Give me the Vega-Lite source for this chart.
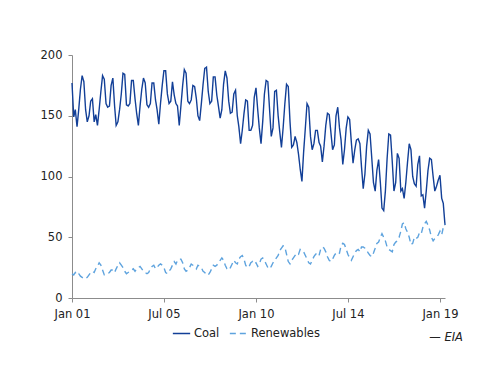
{
  "$schema": "https://vega.github.io/schema/vega-lite/v6.json",
  "autosize": {"type": "none"},
  "width": 373,
  "height": 243,
  "padding": {"left": 72, "top": 55, "right": 55, "bottom": 88},
  "background": "white",
  "title": {"text": "— EIA", "orient": "bottom", "anchor": "end", "fontStyle": "italic", "fontWeight": "normal", "font": "DejaVu Sans", "fontSize": 11.5, "color": "#222222", "dx": 5, "dy": -37, "offset": 30},
  "config": {
    "view": {"stroke": null},
    "font": "DejaVu Sans",
    "axis": {"grid": false, "domainColor": "#8c8c8c", "tickColor": "#8c8c8c", "tickSize": 4, "labelFont": "DejaVu Sans", "labelFontSize": 11.5, "labelColor": "#222222", "title": null}
  },
  "data": {"values": [
{"d":"2001-01","Coal":177,"Renewables":20},{"d":"2001-02","Coal":149,"Renewables":19},{"d":"2001-03","Coal":155,"Renewables":21},{"d":"2001-04","Coal":141,"Renewables":19},{"d":"2001-05","Coal":155,"Renewables":20},{"d":"2001-06","Coal":172,"Renewables":18},{"d":"2001-07","Coal":183,"Renewables":17},{"d":"2001-08","Coal":178,"Renewables":16},{"d":"2001-09","Coal":155,"Renewables":16},{"d":"2001-10","Coal":145,"Renewables":17},{"d":"2001-11","Coal":150,"Renewables":19},{"d":"2001-12","Coal":162,"Renewables":21},
{"d":"2002-01","Coal":164,"Renewables":22},{"d":"2002-02","Coal":145,"Renewables":21},{"d":"2002-03","Coal":151,"Renewables":24},{"d":"2002-04","Coal":142,"Renewables":26},{"d":"2002-05","Coal":155,"Renewables":29},{"d":"2002-06","Coal":170,"Renewables":27},{"d":"2002-07","Coal":183,"Renewables":23},{"d":"2002-08","Coal":180,"Renewables":19},{"d":"2002-09","Coal":160,"Renewables":19},{"d":"2002-10","Coal":157,"Renewables":20},{"d":"2002-11","Coal":158,"Renewables":21},{"d":"2002-12","Coal":175,"Renewables":23},
{"d":"2003-01","Coal":181,"Renewables":23},{"d":"2003-02","Coal":158,"Renewables":21},{"d":"2003-03","Coal":142,"Renewables":24},{"d":"2003-04","Coal":145,"Renewables":27},{"d":"2003-05","Coal":155,"Renewables":29},{"d":"2003-06","Coal":168,"Renewables":27},{"d":"2003-07","Coal":185,"Renewables":25},{"d":"2003-08","Coal":184,"Renewables":22},{"d":"2003-09","Coal":159,"Renewables":20},{"d":"2003-10","Coal":158,"Renewables":21},{"d":"2003-11","Coal":160,"Renewables":22},{"d":"2003-12","Coal":179,"Renewables":23},
{"d":"2004-01","Coal":179,"Renewables":24},{"d":"2004-02","Coal":164,"Renewables":22},{"d":"2004-03","Coal":152,"Renewables":24},{"d":"2004-04","Coal":142,"Renewables":25},{"d":"2004-05","Coal":158,"Renewables":26},{"d":"2004-06","Coal":172,"Renewables":24},{"d":"2004-07","Coal":181,"Renewables":22},{"d":"2004-08","Coal":177,"Renewables":21},{"d":"2004-09","Coal":159,"Renewables":20},{"d":"2004-10","Coal":157,"Renewables":21},{"d":"2004-11","Coal":160,"Renewables":24},{"d":"2004-12","Coal":177,"Renewables":26},
{"d":"2005-01","Coal":177,"Renewables":27},{"d":"2005-02","Coal":163,"Renewables":24},{"d":"2005-03","Coal":155,"Renewables":25},{"d":"2005-04","Coal":143,"Renewables":27},{"d":"2005-05","Coal":160,"Renewables":28},{"d":"2005-06","Coal":175,"Renewables":27},{"d":"2005-07","Coal":187,"Renewables":25},{"d":"2005-08","Coal":187,"Renewables":21},{"d":"2005-09","Coal":168,"Renewables":20},{"d":"2005-10","Coal":160,"Renewables":22},{"d":"2005-11","Coal":162,"Renewables":24},{"d":"2005-12","Coal":178,"Renewables":27},
{"d":"2006-01","Coal":167,"Renewables":30},{"d":"2006-02","Coal":160,"Renewables":28},{"d":"2006-03","Coal":158,"Renewables":31},{"d":"2006-04","Coal":142,"Renewables":32},{"d":"2006-05","Coal":158,"Renewables":32},{"d":"2006-06","Coal":175,"Renewables":29},{"d":"2006-07","Coal":188,"Renewables":24},{"d":"2006-08","Coal":185,"Renewables":22},{"d":"2006-09","Coal":162,"Renewables":23},{"d":"2006-10","Coal":160,"Renewables":25},{"d":"2006-11","Coal":163,"Renewables":28},{"d":"2006-12","Coal":175,"Renewables":27},
{"d":"2007-01","Coal":174,"Renewables":26},{"d":"2007-02","Coal":164,"Renewables":24},{"d":"2007-03","Coal":150,"Renewables":27},{"d":"2007-04","Coal":146,"Renewables":26},{"d":"2007-05","Coal":160,"Renewables":25},{"d":"2007-06","Coal":176,"Renewables":22},{"d":"2007-07","Coal":189,"Renewables":21},{"d":"2007-08","Coal":190,"Renewables":19},{"d":"2007-09","Coal":170,"Renewables":19},{"d":"2007-10","Coal":160,"Renewables":21},{"d":"2007-11","Coal":162,"Renewables":24},{"d":"2007-12","Coal":182,"Renewables":27},
{"d":"2008-01","Coal":182,"Renewables":26},{"d":"2008-02","Coal":167,"Renewables":27},{"d":"2008-03","Coal":158,"Renewables":29},{"d":"2008-04","Coal":148,"Renewables":31},{"d":"2008-05","Coal":155,"Renewables":33},{"d":"2008-06","Coal":176,"Renewables":31},{"d":"2008-07","Coal":187,"Renewables":27},{"d":"2008-08","Coal":181,"Renewables":24},{"d":"2008-09","Coal":162,"Renewables":23},{"d":"2008-10","Coal":152,"Renewables":25},{"d":"2008-11","Coal":153,"Renewables":28},{"d":"2008-12","Coal":168,"Renewables":31},
{"d":"2009-01","Coal":171,"Renewables":29},{"d":"2009-02","Coal":150,"Renewables":28},{"d":"2009-03","Coal":141,"Renewables":32},{"d":"2009-04","Coal":127,"Renewables":34},{"d":"2009-05","Coal":138,"Renewables":35},{"d":"2009-06","Coal":152,"Renewables":32},{"d":"2009-07","Coal":163,"Renewables":27},{"d":"2009-08","Coal":162,"Renewables":25},{"d":"2009-09","Coal":138,"Renewables":26},{"d":"2009-10","Coal":138,"Renewables":29},{"d":"2009-11","Coal":142,"Renewables":30},{"d":"2009-12","Coal":165,"Renewables":28},
{"d":"2010-01","Coal":173,"Renewables":29},{"d":"2010-02","Coal":155,"Renewables":26},{"d":"2010-03","Coal":140,"Renewables":28},{"d":"2010-04","Coal":127,"Renewables":32},{"d":"2010-05","Coal":145,"Renewables":33},{"d":"2010-06","Coal":168,"Renewables":31},{"d":"2010-07","Coal":179,"Renewables":28},{"d":"2010-08","Coal":178,"Renewables":25},{"d":"2010-09","Coal":155,"Renewables":24},{"d":"2010-10","Coal":133,"Renewables":26},{"d":"2010-11","Coal":140,"Renewables":29},{"d":"2010-12","Coal":170,"Renewables":31},
{"d":"2011-01","Coal":171,"Renewables":33},{"d":"2011-02","Coal":150,"Renewables":35},{"d":"2011-03","Coal":137,"Renewables":39},{"d":"2011-04","Coal":124,"Renewables":41},{"d":"2011-05","Coal":140,"Renewables":43},{"d":"2011-06","Coal":160,"Renewables":42},{"d":"2011-07","Coal":176,"Renewables":36},{"d":"2011-08","Coal":174,"Renewables":30},{"d":"2011-09","Coal":145,"Renewables":28},{"d":"2011-10","Coal":124,"Renewables":31},{"d":"2011-11","Coal":126,"Renewables":33},{"d":"2011-12","Coal":133,"Renewables":35},
{"d":"2012-01","Coal":128,"Renewables":37},{"d":"2012-02","Coal":118,"Renewables":36},{"d":"2012-03","Coal":106,"Renewables":40},{"d":"2012-04","Coal":96,"Renewables":39},{"d":"2012-05","Coal":120,"Renewables":38},{"d":"2012-06","Coal":140,"Renewables":35},{"d":"2012-07","Coal":160,"Renewables":32},{"d":"2012-08","Coal":157,"Renewables":29},{"d":"2012-09","Coal":133,"Renewables":28},{"d":"2012-10","Coal":122,"Renewables":31},{"d":"2012-11","Coal":127,"Renewables":34},{"d":"2012-12","Coal":138,"Renewables":36},
{"d":"2013-01","Coal":138,"Renewables":37},{"d":"2013-02","Coal":128,"Renewables":35},{"d":"2013-03","Coal":125,"Renewables":40},{"d":"2013-04","Coal":112,"Renewables":42},{"d":"2013-05","Coal":125,"Renewables":41},{"d":"2013-06","Coal":142,"Renewables":38},{"d":"2013-07","Coal":152,"Renewables":34},{"d":"2013-08","Coal":151,"Renewables":31},{"d":"2013-09","Coal":136,"Renewables":30},{"d":"2013-10","Coal":122,"Renewables":32},{"d":"2013-11","Coal":126,"Renewables":35},{"d":"2013-12","Coal":150,"Renewables":37},
{"d":"2014-01","Coal":157,"Renewables":38},{"d":"2014-02","Coal":140,"Renewables":37},{"d":"2014-03","Coal":130,"Renewables":43},{"d":"2014-04","Coal":110,"Renewables":45},{"d":"2014-05","Coal":122,"Renewables":44},{"d":"2014-06","Coal":140,"Renewables":40},{"d":"2014-07","Coal":149,"Renewables":36},{"d":"2014-08","Coal":147,"Renewables":33},{"d":"2014-09","Coal":128,"Renewables":31},{"d":"2014-10","Coal":111,"Renewables":34},{"d":"2014-11","Coal":122,"Renewables":37},{"d":"2014-12","Coal":130,"Renewables":39},
{"d":"2015-01","Coal":131,"Renewables":40},{"d":"2015-02","Coal":127,"Renewables":38},{"d":"2015-03","Coal":108,"Renewables":42},{"d":"2015-04","Coal":90,"Renewables":42},{"d":"2015-05","Coal":102,"Renewables":41},{"d":"2015-06","Coal":125,"Renewables":39},{"d":"2015-07","Coal":138,"Renewables":37},{"d":"2015-08","Coal":135,"Renewables":35},{"d":"2015-09","Coal":115,"Renewables":34},{"d":"2015-10","Coal":95,"Renewables":37},{"d":"2015-11","Coal":88,"Renewables":41},{"d":"2015-12","Coal":105,"Renewables":45},
{"d":"2016-01","Coal":114,"Renewables":46},{"d":"2016-02","Coal":95,"Renewables":50},{"d":"2016-03","Coal":74,"Renewables":53},{"d":"2016-04","Coal":72,"Renewables":50},{"d":"2016-05","Coal":88,"Renewables":47},{"d":"2016-06","Coal":115,"Renewables":42},{"d":"2016-07","Coal":135,"Renewables":40},{"d":"2016-08","Coal":134,"Renewables":39},{"d":"2016-09","Coal":112,"Renewables":38},{"d":"2016-10","Coal":88,"Renewables":44},{"d":"2016-11","Coal":95,"Renewables":46},{"d":"2016-12","Coal":119,"Renewables":47},
{"d":"2017-01","Coal":115,"Renewables":50},{"d":"2017-02","Coal":88,"Renewables":55},{"d":"2017-03","Coal":90,"Renewables":61},{"d":"2017-04","Coal":82,"Renewables":62},{"d":"2017-05","Coal":95,"Renewables":57},{"d":"2017-06","Coal":112,"Renewables":54},{"d":"2017-07","Coal":127,"Renewables":50},{"d":"2017-08","Coal":122,"Renewables":44},{"d":"2017-09","Coal":100,"Renewables":45},{"d":"2017-10","Coal":94,"Renewables":50},{"d":"2017-11","Coal":92,"Renewables":49},{"d":"2017-12","Coal":110,"Renewables":50},
{"d":"2018-01","Coal":117,"Renewables":54},{"d":"2018-02","Coal":84,"Renewables":53},{"d":"2018-03","Coal":85,"Renewables":58},{"d":"2018-04","Coal":74,"Renewables":61},{"d":"2018-05","Coal":88,"Renewables":63},{"d":"2018-06","Coal":105,"Renewables":60},{"d":"2018-07","Coal":115,"Renewables":56},{"d":"2018-08","Coal":114,"Renewables":50},{"d":"2018-09","Coal":100,"Renewables":47},{"d":"2018-10","Coal":88,"Renewables":49},{"d":"2018-11","Coal":92,"Renewables":50},{"d":"2018-12","Coal":97,"Renewables":52},
{"d":"2019-01","Coal":101,"Renewables":55},{"d":"2019-02","Coal":82,"Renewables":52},{"d":"2019-03","Coal":78,"Renewables":58},{"d":"2019-04","Coal":60,"Renewables":61}
  ]},
  "transform": [{"fold": ["Coal", "Renewables"], "as": ["series", "value"]}],
  "mark": {"type": "line", "strokeWidth": 1.4},
  "encoding": {
    "x": {
      "field": "d", "type": "temporal",
      "scale": {"type": "utc", "domain": [{"year": 2001, "month": 1, "date": 1, "utc": true}, {"year": 2019, "month": 4, "date": 1, "utc": true}], "nice": false},
      "axis": {"format": "%b %y", "labelPadding": 6, "labelFlush": false,
        "values": [{"year": 2001, "month": 1, "date": 1, "utc": true}, {"year": 2005, "month": 7, "date": 1, "utc": true}, {"year": 2010, "month": 1, "date": 1, "utc": true}, {"year": 2014, "month": 7, "date": 1, "utc": true}, {"year": 2019, "month": 1, "date": 1, "utc": true}]}
    },
    "y": {
      "field": "value", "type": "quantitative",
      "scale": {"domain": [0, 200], "nice": false},
      "axis": {"values": [0, 50, 100, 150, 200], "labelPadding": 6}
    },
    "color": {
      "field": "series", "type": "nominal",
      "scale": {"domain": ["Coal", "Renewables"], "range": ["#123f97", "#5ea3de"]},
      "legend": {"orient": "none", "legendX": 100, "legendY": 269, "direction": "horizontal", "title": null, "symbolType": "stroke", "symbolSize": 300, "symbolStrokeWidth": 1.5, "labelFontSize": 11.5, "labelFont": "DejaVu Sans", "labelColor": "#222222", "columnPadding": 6, "labelOffset": 3}
    },
    "strokeDash": {
      "field": "series", "type": "nominal",
      "scale": {"domain": ["Coal", "Renewables"], "range": [[1, 0], [6, 4]]},
      "legend": {"orient": "none", "legendX": 100, "legendY": 269, "direction": "horizontal", "title": null, "symbolType": "stroke", "symbolSize": 300, "symbolStrokeWidth": 1.5, "labelFontSize": 11.5, "labelFont": "DejaVu Sans", "labelColor": "#222222", "columnPadding": 6, "labelOffset": 3}
    }
  }
}
